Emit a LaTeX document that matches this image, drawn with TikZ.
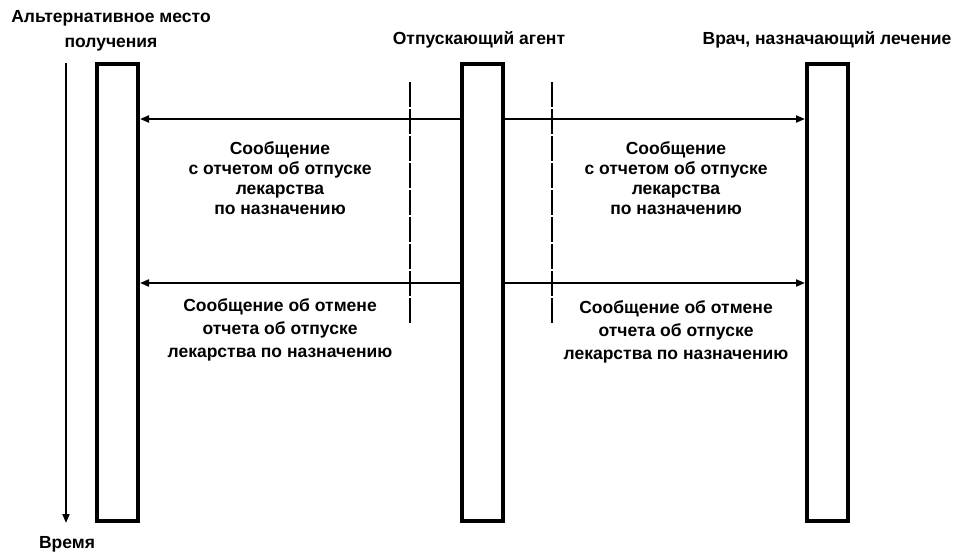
\documentclass[tikz,border=0pt]{standalone}
\usepackage{fontspec}
\setmainfont{Liberation Sans}
\usetikzlibrary{arrows.meta}
\begin{document}
\begin{tikzpicture}[x=1pt,y=-1pt,
  lifebox/.style={draw=black, line width=4pt, fill=white, minimum width=41pt, minimum height=457pt, inner sep=0pt},
  msg/.style={line width=2pt, -{Triangle[length=9pt,width=7pt]}},
  guide/.style={line width=2pt, dash pattern=on 25pt off 2pt},
  lbl/.style={align=center, inner sep=0pt, font=\fontsize{17.5}{20}\selectfont\bfseries},
  lbltwo/.style={align=center, inner sep=0pt, font=\fontsize{17.5}{23}\selectfont\bfseries},
  ttl/.style={align=center, inner sep=0pt, font=\fontsize{17.5}{25}\selectfont\bfseries}]
\useasboundingbox[fill=white] (0,0) rectangle (956,553);

% lifelines
\node[lifebox] (L) at (117.5,292.5) {};
\node[lifebox] (M) at (482.5,292.5) {};
\node[lifebox] (R) at (827.5,292.5) {};

% titles
\node[ttl] (tL) at (111,31) {Альтернативное место\\получения};
\node[ttl] (tM) at (479,40) {Отпускающий агент};
\node[ttl] (tR) at (827,40) {Врач, назначающий лечение};

% time axis
\coordinate (t0) at (66,63);
\coordinate (t1) at (66,523);
\draw[msg] (t0) -- (t1);
\node[ttl] (time) at (67,544) {Время};

% guide lines
\coordinate (g1a) at (410,82);
\coordinate (g1b) at (410,323);
\coordinate (g2a) at (552,82);
\coordinate (g2b) at (552,323);
\draw[guide] (g1a) -- (g1b);
\draw[guide] (g2a) -- (g2b);

% messages
\coordinate (y1) at (0,119);
\coordinate (y2) at (0,283);
\draw[msg] (M.west |- y1) -- (L.east |- y1);
\draw[msg] (M.east |- y1) -- (R.west |- y1);
\draw[msg] (M.west |- y2) -- (L.east |- y2);
\draw[msg] (M.east |- y2) -- (R.west |- y2);

% labels
\node[lbl] (m1l) at (280,178) {Сообщение\\с отчетом об отпуске\\лекарства\\по назначению};
\node[lbl] (m1r) at (676,178) {Сообщение\\с отчетом об отпуске\\лекарства\\по назначению};
\node[lbltwo] (m2l) at (280,330) {Сообщение об отмене\\отчета об отпуске\\лекарства по назначению};
\node[lbltwo] (m2r) at (676,332) {Сообщение об отмене\\отчета об отпуске\\лекарства по назначению};
\end{tikzpicture}
\end{document}
